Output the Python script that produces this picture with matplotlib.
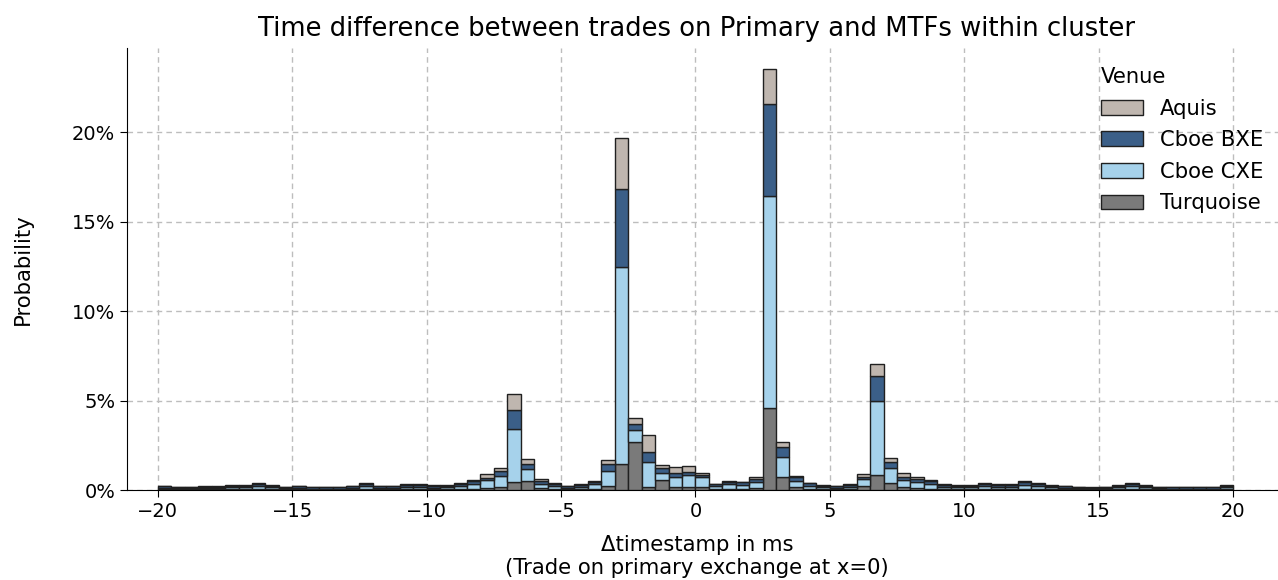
import numpy as np
import matplotlib
matplotlib.use('Agg')
import matplotlib.pyplot as plt
from matplotlib.patches import Patch

# left bin edges (ms), bin width 0.5
bin_left = np.arange(-20, 20, 0.5)
bin_width = 0.5

# probability in % per bin, per venue (stacked bottom -> top)
turquoise = [0.04, 0.03, 0.03, 0.03, 0.03, 0.04, 0.04, 0.05, 0.04, 0.03,
             0.04, 0.03, 0.03, 0.03, 0.04, 0.05, 0.04, 0.04, 0.04, 0.04,
             0.04, 0.04, 0.05, 0.05, 0.09, 0.15, 0.47, 0.50, 0.09, 0.05,
             0.04, 0.04, 0.06, 0.22, 1.43, 2.70, 0.19, 0.56, 0.19, 0.19,
             0.19, 0.05, 0.06, 0.06, 0.09, 4.56, 0.71, 0.15, 0.06, 0.04,
             0.04, 0.05, 0.22, 0.84, 0.37, 0.19, 0.13, 0.08, 0.05, 0.04,
             0.04, 0.05, 0.04, 0.04, 0.06, 0.05, 0.04, 0.04, 0.03, 0.03,
             0.03, 0.04, 0.05, 0.04, 0.03, 0.03, 0.03, 0.03, 0.03, 0.04]
cboe_cxe = [0.07, 0.06, 0.06, 0.07, 0.07, 0.10, 0.10, 0.17, 0.10, 0.06,
            0.07, 0.05, 0.05, 0.05, 0.09, 0.17, 0.09, 0.07, 0.13, 0.13,
            0.09, 0.10, 0.17, 0.26, 0.47, 0.65, 2.92, 0.67, 0.25, 0.16,
            0.09, 0.14, 0.26, 0.84, 11.04, 0.65, 1.39, 0.41, 0.55, 0.65,
            0.55, 0.17, 0.25, 0.24, 0.38, 11.86, 1.15, 0.38, 0.19, 0.11,
            0.08, 0.14, 0.38, 4.11, 0.84, 0.37, 0.30, 0.26, 0.14, 0.11,
            0.10, 0.18, 0.12, 0.12, 0.24, 0.16, 0.11, 0.08, 0.06, 0.04,
            0.06, 0.10, 0.19, 0.11, 0.06, 0.05, 0.05, 0.05, 0.05, 0.10]
cboe_bxe = [0.09, 0.08, 0.08, 0.08, 0.08, 0.09, 0.09, 0.11, 0.09, 0.08,
            0.09, 0.07, 0.07, 0.06, 0.09, 0.12, 0.08, 0.09, 0.11, 0.10,
            0.10, 0.09, 0.13, 0.17, 0.13, 0.26, 1.08, 0.26, 0.17, 0.11,
            0.08, 0.10, 0.14, 0.37, 4.33, 0.34, 0.56, 0.24, 0.23, 0.18,
            0.11, 0.10, 0.12, 0.12, 0.16, 5.13, 0.53, 0.17, 0.12, 0.10,
            0.08, 0.11, 0.14, 1.42, 0.37, 0.18, 0.18, 0.16, 0.11, 0.10,
            0.09, 0.12, 0.11, 0.11, 0.16, 0.12, 0.10, 0.08, 0.08, 0.06,
            0.08, 0.09, 0.12, 0.10, 0.08, 0.07, 0.07, 0.07, 0.07, 0.09]
aquis = [0.02, 0.02, 0.02, 0.02, 0.02, 0.03, 0.03, 0.04, 0.03, 0.02,
         0.02, 0.02, 0.02, 0.02, 0.03, 0.04, 0.03, 0.02, 0.04, 0.04,
         0.03, 0.03, 0.05, 0.08, 0.18, 0.15, 0.91, 0.30, 0.10, 0.05,
         0.03, 0.04, 0.06, 0.25, 2.88, 0.31, 0.93, 0.19, 0.33, 0.32,
         0.10, 0.04, 0.05, 0.05, 0.08, 1.95, 0.29, 0.06, 0.04, 0.03,
         0.02, 0.04, 0.15, 0.65, 0.19, 0.19, 0.10, 0.06, 0.04, 0.03,
         0.03, 0.05, 0.04, 0.04, 0.06, 0.04, 0.03, 0.02, 0.02, 0.02,
         0.02, 0.03, 0.05, 0.03, 0.02, 0.02, 0.02, 0.02, 0.02, 0.03]

venues = ['Turquoise', 'Cboe CXE', 'Cboe BXE', 'Aquis']
series = [turquoise, cboe_cxe, cboe_bxe, aquis]
colors = {'Aquis': '#bfb6af', 'Cboe BXE': '#3b5f88',
          'Cboe CXE': '#a6d2eb', 'Turquoise': '#7a7a7a'}

fig = plt.figure(figsize=(12.78, 5.8), dpi=100)
ax = fig.add_axes([127 / 1278, 90 / 580, 1159.7 / 1278, 442 / 580])

bottom = np.zeros(len(bin_left))
for name, vals in zip(venues, series):
    vals = np.array(vals)
    ax.bar(bin_left, vals, width=bin_width, bottom=bottom, align='edge',
           color=colors[name], edgecolor='#202020', linewidth=1.0, zorder=3)
    bottom += vals

ax.set_xlim(-21.15, 22)
ax.set_ylim(0, 24.7)
ax.set_xticks(range(-20, 21, 5))
ax.set_xticklabels(['\u2212' + str(-t) if t < 0 else str(t) for t in range(-20, 21, 5)])
ax.set_yticks([0, 5, 10, 15, 20])
ax.set_yticklabels(['0%', '5%', '10%', '15%', '20%'])
ax.tick_params(labelsize=14, length=5)
ax.grid(True, linestyle=(0, (4, 3)), color='#bdbdbd', linewidth=1.0, zorder=0)
ax.set_axisbelow(True)
ax.spines['top'].set_visible(False)
ax.spines['right'].set_visible(False)

ax.set_title('Time difference between trades on Primary and MTFs within cluster',
             fontsize=18.6, pad=9, x=0.4915)
ax.set_ylabel('Probability', fontsize=15.2, labelpad=28)
ax.set_xlabel('\u0394timestamp in ms\n(Trade on primary exchange at x=0)',
              fontsize=15.2, labelpad=10)
ax.xaxis.label.set_x(0.4915)

handles = [Patch(facecolor=colors[v], edgecolor='#202020', linewidth=1.0)
           for v in ['Aquis', 'Cboe BXE', 'Cboe CXE', 'Turquoise']]
leg = ax.legend(handles, ['Aquis', 'Cboe BXE', 'Cboe CXE', 'Turquoise'],
                title='Venue', frameon=False, fontsize=15.2, title_fontsize=15.2,
                loc='upper left', bbox_to_anchor=(0.8235, 1.0), labelspacing=0.55)
leg._legend_box.align = 'left'

fig.savefig('out.png', dpi=100)
